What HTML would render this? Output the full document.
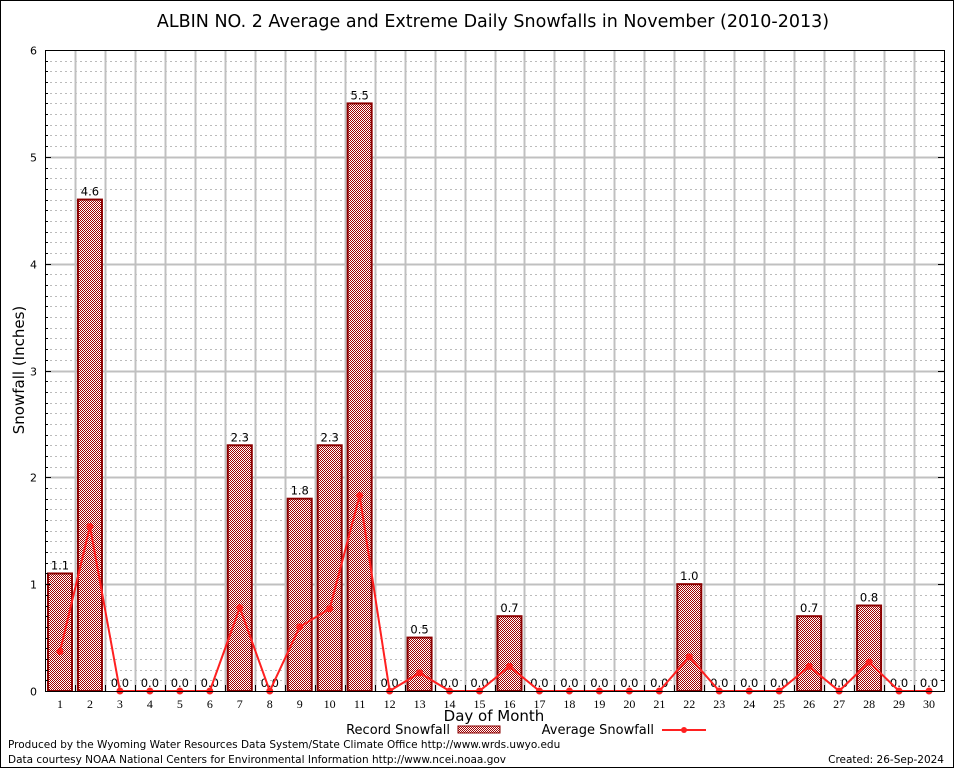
<!DOCTYPE html>
<html><head><meta charset="utf-8"><style>
body{margin:0;background:#fff}
svg{display:block;font-family:"DejaVu Sans","Liberation Sans",sans-serif}
</style></head><body>
<svg id="chart" width="954" height="768">
<defs>
<pattern id="chk" width="2" height="2" patternUnits="userSpaceOnUse">
<rect width="2" height="2" fill="#fff"/><rect width="1" height="1" fill="#a00000"/><rect x="1" y="1" width="1" height="1" fill="#a00000"/>
</pattern>
</defs>
<rect x="0.5" y="0.5" width="953" height="767" fill="#fff" stroke="#000"/>
<text x="493" y="27" font-size="17.5" text-anchor="middle">ALBIN NO. 2 Average and Extreme Daily Snowfalls in November (2010-2013)</text>
<g id="grid"></g>
<g id="bars"></g>
<g id="line"></g>
<rect x="45.5" y="50.5" width="899" height="641" fill="none" stroke="#000"/>
<g id="axes"></g>
<text x="24" y="370" font-size="15" text-anchor="middle" transform="rotate(-90 24 370)">Snowfall (Inches)</text>
<text x="494" y="721" font-size="15" text-anchor="middle">Day of Month</text>
<g>
<text x="450" y="734" font-size="13" text-anchor="end">Record Snowfall</text>
<rect x="458" y="726" width="42" height="7" fill="url(#chk)" stroke="#8b0000"/>
<text x="654" y="734" font-size="13" text-anchor="end">Average Snowfall</text>
<line x1="662" y1="730" x2="706" y2="730" stroke="#ff2020" stroke-width="2"/>
<circle cx="684" cy="730" r="3" fill="#ff2020"/>
</g>
<text x="8" y="748" font-size="10.5">Produced by the Wyoming Water Resources Data System/State Climate Office http://www.wrds.uwyo.edu</text>
<text x="8" y="763" font-size="10.5">Data courtesy NOAA National Centers for Environmental Information http://www.ncei.noaa.gov</text>
<text x="944" y="763" font-size="10.5" text-anchor="end">Created: 26-Sep-2024</text>
</svg>
<script>
const days=[1,2,3,4,5,6,7,8,9,10,11,12,13,14,15,16,17,18,19,20,21,22,23,24,25,26,27,28,29,30];
const recordValues=[1.1,4.6,0,0,0,0,2.3,0,1.8,2.3,5.5,0,0.5,0,0,0.7,0,0,0,0,0,1.0,0,0,0,0.7,0,0.8,0,0];
const averageValues=[0.37,1.54,0,0,0,0,0.78,0,0.6,0.77,1.83,0,0.17,0,0,0.23,0,0,0,0,0,0.32,0,0,0,0.23,0,0.27,0,0];
const yTicks=[0,1,2,3,4,5,6];
const NS='http://www.w3.org/2000/svg';
const L=45,T=50,W=899,H=641,yMax=6;
const xs=d=>L+W/days.length*(d-0.5);
const ys=v=>T+H-v/yMax*H;
const bw=W/days.length;
function mk(t,a,p){const e=document.createElementNS(NS,t);for(const k in a)e.setAttribute(k,a[k]);p.appendChild(e);return e;}
const grid=document.getElementById('grid');
for(let i=1;i<yMax*10;i++){if(i%10===0)continue;const y=Math.round(ys(i/10))+0.5;
const e=mk('line',{x1:L,x2:L+W,y1:y,y2:y,stroke:'#bbb','stroke-dasharray':'2,3','stroke-width':1},grid);

}
for(let i=1;i<days.length;i++){const x=Math.round(L+bw*i)+0.5;
const e=mk('line',{x1:x,x2:x,y1:T,y2:T+H,stroke:'#c0c0c0','stroke-width':2},grid);

}
yTicks.forEach(v=>{if(v===0||v===yMax)return;const y=Math.round(ys(v))+0.5;
const e=mk('line',{x1:L,x2:L+W,y1:y,y2:y,stroke:'#c0c0c0','stroke-width':2},grid);

});
const bars=document.getElementById('bars');
days.forEach((d,i)=>{const v=recordValues[i];const x=xs(d);
if(v>0){const r=mk('rect',{x:x-12,y:ys(v),width:24,height:ys(0)-ys(v),fill:'url(#chk)',stroke:'#8b0000','stroke-width':2},bars);

}
const t=mk('text',{x:x,y:ys(v)-4,'font-size':11.5,'text-anchor':'middle'},bars);
t.textContent=v.toFixed(1);

});
const lg=document.getElementById('line');
const pts=days.map((d,i)=>xs(d)+','+ys(averageValues[i])).join(' ');
const pl=mk('polyline',{points:pts,fill:'none',stroke:'#ff2020','stroke-width':2},lg);


days.forEach((d,i)=>{const c=mk('circle',{cx:xs(d),cy:ys(averageValues[i]),r:3.5,fill:'#ff2020'},lg);

});
const ax=document.getElementById('axes');
yTicks.forEach(v=>{const y=Math.round(ys(v))+0.5;
mk('line',{x1:L,x2:L+6,y1:y,y2:y,stroke:'#000'},ax);
mk('line',{x1:L+W-6,x2:L+W,y1:y,y2:y,stroke:'#000'},ax);
const t=mk('text',{x:L-8,y:y+4,'font-size':11,'text-anchor':'end'},ax);
t.textContent=v;

});
for(let i=1;i<yMax*10;i++){if(i%10===0)continue;const y=Math.round(ys(i/10))+0.5;
mk('line',{x1:L,x2:L+3,y1:y,y2:y,stroke:'#000'},ax);
mk('line',{x1:L+W-3,x2:L+W,y1:y,y2:y,stroke:'#000'},ax);}
days.forEach(d=>{const t=mk('text',{x:xs(d),y:708,'font-size':12,'text-anchor':'middle','font-family':'Liberation Serif, serif'},ax);
t.textContent=d;


const x=Math.round(L+bw*d)+0.5;mk('line',{x1:x,x2:x,y1:T+H,y2:T+H-6,stroke:'#000'},ax);});
</script>
</body></html>
